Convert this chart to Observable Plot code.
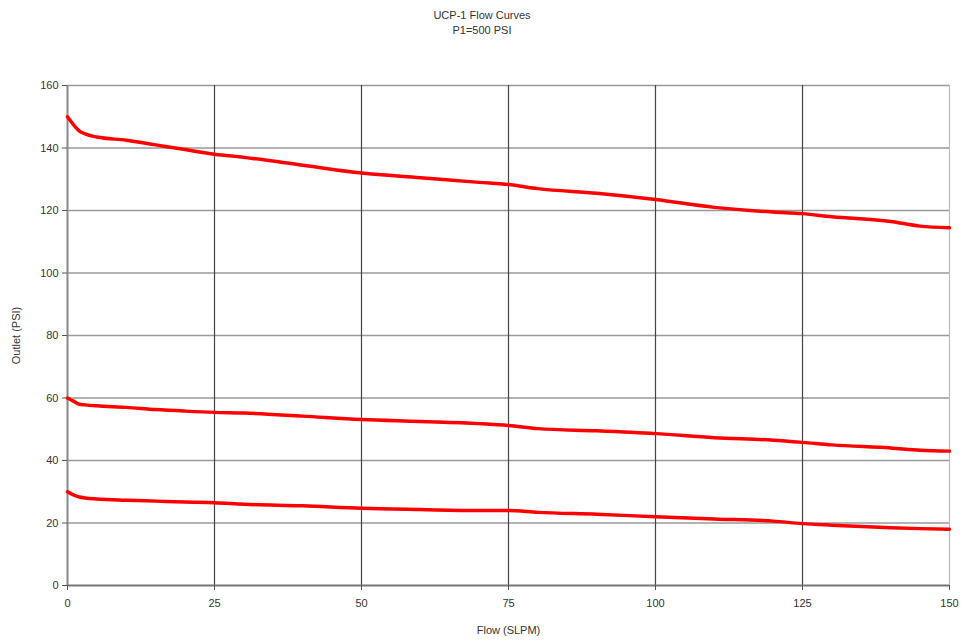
<!DOCTYPE html>
<html>
<head>
<meta charset="utf-8">
<script src="https://cdn.jsdelivr.net/npm/d3@7"></script>
<script src="https://cdn.jsdelivr.net/npm/@observablehq/plot@0.6"></script>
<style>
  html, body { margin: 0; padding: 0; background: #fff; }
  #title { font-family: "Liberation Sans", Arial, sans-serif; font-size: 11px; line-height: 15px; color: #333; text-align: center; padding-top: 8px; height: 37px; box-sizing: border-box; width: 964px; }
</style>
</head>
<body>
<div id="title">UCP-1 Flow Curves<br>P1=500 PSI</div>
<div id="chart"></div>
<script>
const flow = [0,1,2,3,5,10,15,20,25,30,40,50,60,70,75,80,90,100,110,120,125,130,140,145,150];
const outletHigh = [150,147.5,145.5,144.5,143.5,142.5,141,139.5,138,137,134.5,132,130.5,129,128.3,127,125.5,123.5,121,119.5,119,118,116.5,115,114.5];
const outletMid = [60,59,58,57.8,57.5,57,56.3,55.8,55.4,55.2,54.2,53.1,52.5,51.8,51.2,50.2,49.5,48.6,47.3,46.5,45.8,45,44,43.3,43];
const outletLow = [30,29,28.3,28,27.7,27.3,27,26.7,26.5,26,25.5,24.7,24.3,24,24,23.4,22.8,22,21.3,20.6,19.8,19.3,18.5,18.2,18];
const xTicks = [0,25,50,75,100,125,150];
const yTicks = [0,20,40,60,80,100,120,140,160];

const rows = [];
[["high", outletHigh], ["mid", outletMid], ["low", outletLow]].forEach(([s, vals]) => {
  flow.forEach((f, i) => rows.push({series: s, flow: f, outlet: vals[i]}));
});

const chart = Plot.plot({
  width: 964,
  height: 606,
  marginTop: 48,
  marginBottom: 58,
  marginLeft: 67,
  marginRight: 15,
  style: {fontFamily: "'Liberation Sans', Arial, sans-serif", fontSize: "11px", color: "#333", background: "#fff"},
  x: {domain: [0, 150], ticks: xTicks, label: "Flow (SLPM)", labelAnchor: "center", labelArrow: "none", labelOffset: 48},
  y: {domain: [0, 160], ticks: yTicks, label: "Outlet (PSI)", labelAnchor: "center", labelArrow: "none", labelOffset: 55},
  marks: [
    Plot.gridY(yTicks.filter(d => d > 0), {stroke: "#999", strokeOpacity: 1, strokeWidth: 1.5}),
    Plot.gridX(xTicks.filter(d => d > 0 && d < 150), {stroke: "#444", strokeOpacity: 1, strokeWidth: 1.2}),
    Plot.gridX([150], {stroke: "#bbb", strokeOpacity: 1, strokeWidth: 1.2}),
    Plot.ruleX([0], {stroke: "#888", strokeWidth: 2}),
    Plot.ruleY([0], {stroke: "#777", strokeWidth: 2}),
    Plot.axisX({ticks: xTicks, tickSize: 5, tickPadding: 9, stroke: "#555", label: "Flow (SLPM)", labelAnchor: "center", labelArrow: "none", labelOffset: 48}),
    Plot.axisY({ticks: yTicks, tickSize: 5, tickPadding: 4, stroke: "#555", label: "Outlet (PSI)", labelAnchor: "center", labelArrow: "none", labelOffset: 55}),
    Plot.line(rows, {x: "flow", y: "outlet", z: "series", stroke: "#ff0000", strokeWidth: 3.5, curve: "monotone-x"})
  ]
});
document.getElementById("chart").appendChild(chart);
</script>
</body>
</html>
